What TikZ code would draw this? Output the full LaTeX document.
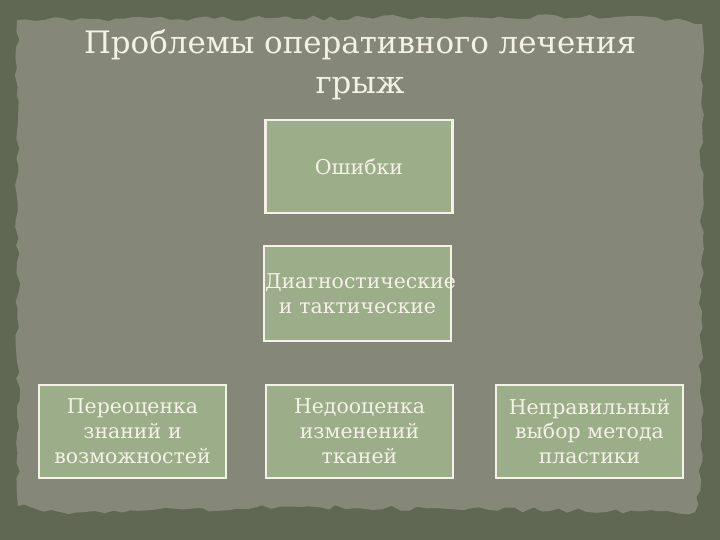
\documentclass[tikz,border=0pt]{standalone}
\usepackage{fontspec}
\setmainfont{DejaVu Serif}
\usetikzlibrary{positioning,decorations.pathmorphing}
\usepackage{xcolor}

\definecolor{fondo}{HTML}{606853}
\definecolor{carta}{HTML}{858879}
\definecolor{scatola}{HTML}{9CAD89}
\definecolor{testo}{HTML}{F4F2E6}

\begin{document}
\begin{tikzpicture}[x=1bp,y=-1bp,
		every node/.style={text=testo,font=\fontsize{20.5}{25}\selectfont},
		box/.style={draw=testo,line width=2.5pt,fill=scatola,minimum width=187bp,minimum height=93bp,text width=185bp,align=center,inner sep=0pt}]
	% Sfondo
	\fill[fondo] (0,0) rectangle (720,540);
	\useasboundingbox (0,0) rectangle (720,540);
	\pgfmathsetseed{7}
	\fill[carta,decorate,decoration={random steps,segment length=9pt,amplitude=2.5pt}]
		(17,20) -- (640,16) -- (702,24) -- (701,480) -- (695,512) -- (300,507) -- (60,512) -- (18,506) -- cycle;
	
	% Titolo
	\node[font=\fontsize{31}{40}\selectfont,align=center] (title) at (360,65) {Проблемы оперативного лечения\\грыж};
	
	% Riquadri
	\node[box] (err) at (359,166.5) {Ошибки};
	\node[box,minimum height=95bp] (diag) at (357.5,293.5) {Диагностические\\и тактические};
	\node[box] (over) at (132.5,431.5) {Переоценка\\знаний и\\возможностей};
	\node[box] (under) at (359.5,431.5) {Недооценка\\изменений\\тканей};
	\node[box] (wrong) at (589.5,431.5) {Неправильный\\выбор метода\\пластики};
\end{tikzpicture}
\end{document}
